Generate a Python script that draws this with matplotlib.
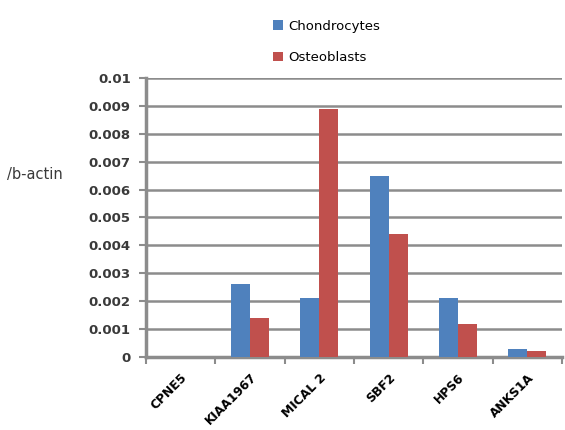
import numpy as np
import matplotlib
matplotlib.use("Agg")
import matplotlib.pyplot as plt
from matplotlib.transforms import ScaledTranslation

genes = ["CPNE5", "KIAA1967", "MICAL 2", "SBF2", "HPS6", "ANKS1A"]
chondrocytes = [0.0, 0.0026, 0.0021, 0.0065, 0.0021, 0.0003]
osteoblasts = [0.0, 0.0014, 0.0089, 0.0044, 0.0012, 0.0002]
series_names = ["Chondrocytes", "Osteoblasts"]
yticks = [0, 0.001, 0.002, 0.003, 0.004, 0.005, 0.006, 0.007, 0.008, 0.009, 0.01]
ytick_labels = ["0", "0.001", "0.002", "0.003", "0.004", "0.005", "0.006",
                "0.007", "0.008", "0.009", "0.01"]

blue = "#4F81BD"
red = "#C0504D"
grid_gray = "#8C8C8C"

fig = plt.figure(figsize=(5.65, 4.3), dpi=100)
ax = fig.add_axes([0.2584, 0.1698, 0.7363, 0.6488])

x = np.arange(len(genes))
w = 0.275
b1 = ax.bar(x - w / 2, chondrocytes, width=w, color=blue, label=series_names[0], zorder=3)
b2 = ax.bar(x + w / 2, osteoblasts, width=w, color=red, label=series_names[1], zorder=3)

ax.set_xlim(-0.5, len(genes) - 0.5)
ax.set_ylim(0, 0.01)
ax.set_yticks(yticks)
ax.set_yticklabels(ytick_labels, fontsize=9.5, fontweight="bold", color="#3a3a3a")
ax.yaxis.grid(True, color=grid_gray, linewidth=1.8, zorder=0)
ax.set_axisbelow(True)

# category boundary ticks on the x axis, labels centred under each group
ax.set_xticks(np.arange(len(genes) + 1) - 0.5)
ax.set_xticklabels([])
ax.set_xticks(x, minor=True)
ax.set_xticklabels(genes, minor=True, rotation=45, ha="right", rotation_mode="anchor",
                   fontsize=8.8, fontweight="bold")
shift = ScaledTranslation(-6 / 100, 0, fig.dpi_scale_trans)
for lbl in ax.get_xticklabels(minor=True):
    lbl.set_transform(lbl.get_transform() + shift)
ax.tick_params(axis="x", which="minor", length=0, pad=10)
ax.tick_params(axis="x", which="major", length=5, width=1.5, color=grid_gray, direction="out")
ax.tick_params(axis="y", length=5, width=1.5, color=grid_gray, direction="out", pad=6)

for side in ["top", "right"]:
    ax.spines[side].set_visible(False)
for side in ["left", "bottom"]:
    ax.spines[side].set_color(grid_gray)
    ax.spines[side].set_linewidth(2.5)

fig.text(0.012, (430 - 175) / 430, "/b-actin", fontsize=10.5, ha="left", va="center",
         color="#3a3a3a")

fig.legend(handles=[b1, b2], labels=series_names, loc="upper left",
           bbox_to_anchor=(0.462, 0.982), frameon=False, fontsize=9.5,
           labelspacing=1.4, handlelength=0.75, handleheight=0.75, handletextpad=0.45)

fig.savefig("out.png", dpi=100)
